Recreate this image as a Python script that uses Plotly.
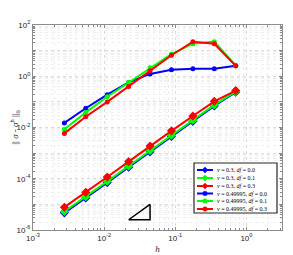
import plotly.graph_objects as go

h = [0.00276, 0.00552, 0.01105, 0.0221, 0.0442, 0.0884, 0.1768, 0.3536, 0.7071]

# nu = 0.3 (lower curves), log10 of error
low_df00 = [-5.33, -4.75, -4.15, -3.55, -2.95, -2.35, -1.76, -1.16, -0.62]
low_df01 = [-5.28, -4.70, -4.10, -3.50, -2.90, -2.30, -1.72, -1.12, -0.60]
low_df03 = [-5.11, -4.53, -3.93, -3.33, -2.72, -2.13, -1.55, -0.98, -0.56]
# nu = 0.49995 (upper curves)
up_df00 = [-1.82, -1.25, -0.72, -0.24, 0.09, 0.25, 0.29, 0.29, 0.41]
up_df01 = [-2.07, -1.41, -0.80, -0.24, 0.33, 0.86, 1.27, 1.35, 0.41]
up_df03 = [-2.23, -1.58, -1.00, -0.40, 0.21, 0.82, 1.35, 1.27, 0.41]

tri_h = [0.0221, 0.0442, 0.0442, 0.0221]
tri_log = [-5.6, -5.6, -5.0, -5.6]

labels = ["<i>ν</i> = 0.3, <i>df</i> = 0.0", "<i>ν</i> = 0.3, <i>df</i> = 0.1",
          "<i>ν</i> = 0.3, <i>df</i> = 0.3", "<i>ν</i> = 0.49995, <i>df</i> = 0.0",
          "<i>ν</i> = 0.49995, <i>df</i> = 0.1", "<i>ν</i> = 0.49995, <i>df</i> = 0.3"]
colors = ["#0000FF", "#00FF00", "#FF0000"]

xtick_vals = [1e-3, 1e-2, 1e-1, 1e0]
xtick_text = ["10<sup>-3</sup>", "10<sup>-2</sup>", "10<sup>-1</sup>", "10<sup>0</sup>"]
ytick_vals = [1e-6, 1e-5, 1e-4, 1e-3, 1e-2, 1e-1, 1e0, 1e1, 1e2]
ytick_text = ["10<sup>-6</sup>", "", "10<sup>-4</sup>", "", "10<sup>-2</sup>", "", "10<sup>0</sup>", "", "10<sup>2</sup>"]

# geometry: page body has an 8px margin, so the figure is offset by 8px
OFF = 8
W, H = 293 - OFF, 255 - OFF
L, R, T, B = 33 - OFF, 11, 25 - OFF, 33 - OFF
pw, ph = W - L - R, H - T - B


def px(x):  # page pixel -> paper fraction
    return (x - OFF - L) / pw


def py(y):
    return (H + OFF - B - y) / ph


fig = go.Figure()
series = [(low_df00, "diamond"), (low_df01, "diamond"), (low_df03, "diamond"),
          (up_df00, "circle"), (up_df01, "circle"), (up_df03, "circle")]
for i, (vals, sym) in enumerate(series):
    fig.add_trace(go.Scatter(
        x=h, y=[10 ** v for v in vals], mode="lines+markers", name=labels[i],
        line=dict(color=colors[i % 3], width=2),
        marker=dict(symbol=sym, size=7 if sym == "diamond" else 5, color=colors[i % 3]),
        showlegend=False,
    ))

fig.add_trace(go.Scatter(x=tri_h, y=[10 ** v for v in tri_log], mode="lines",
                         line=dict(color="black", width=1.5), showlegend=False))

minor_x = [m * 10 ** k for k in range(-3, 1) for m in range(2, 10)]
minor_y = [m * 10 ** k for k in range(-6, 2) for m in range(2, 10)]

axis_common = dict(
    type="log", showline=True, mirror="ticks", linecolor="#8c8c8c", linewidth=1,
    ticks="inside", ticklen=3, tickcolor="#8c8c8c",
    showgrid=True, gridcolor="#dcdcdc", griddash="dot", gridwidth=1,
    tickfont=dict(family="Liberation Sans, Arial", size=8, color="#262626"),
    zeroline=False, automargin=False,
)

fig.update_xaxes(**axis_common, range=[-3, 0.5], tickvals=xtick_vals, ticktext=xtick_text,
                 minor=dict(tickvals=minor_x, showgrid=True, gridcolor="#efefef", griddash="dot",
                            ticks="inside", ticklen=2, tickcolor="#8c8c8c"),
                 title=dict(text="<i>h</i>", font=dict(family="Liberation Serif", size=9, color="#262626"), standoff=4))
fig.update_yaxes(**axis_common, range=[-6, 2], tickvals=ytick_vals, ticktext=ytick_text,
                 minor=dict(tickvals=minor_y, showgrid=True, gridcolor="#f0f0f0", griddash="dot",
                            ticks="inside", ticklen=2, tickcolor="#8c8c8c"),
                 title=dict(text="|| <i>σ</i> - <i>σ</i><sup>h</sup> ||<sub>0</sub>",
                            font=dict(family="Liberation Serif", size=9, color="#262626"), standoff=2))

# compact legend drawn with shapes + annotations
shapes = [dict(type="rect", xref="paper", yref="paper",
               x0=px(194), x1=px(277), y0=py(213), y1=py(163),
               fillcolor="white", line=dict(color="#262626", width=1.2), layer="above")]
annotations = []
row_y = [170, 178, 186, 193.5, 201, 209]
for i, (vals, sym) in enumerate(series):
    yy = row_y[i]
    c = colors[i % 3]
    shapes.append(dict(type="line", xref="paper", yref="paper",
                       x0=px(197), x1=px(213), y0=py(yy), y1=py(yy),
                       line=dict(color=c, width=2), layer="above"))
    if sym == "circle":
        r = 2.3
        shapes.append(dict(type="circle", xref="paper", yref="paper",
                           x0=px(205 - r), x1=px(205 + r), y0=py(yy + r), y1=py(yy - r),
                           fillcolor=c, line=dict(color=c, width=0.5), layer="above"))
    else:
        d = 3
        path = "M {} {} L {} {} L {} {} L {} {} Z".format(
            px(205 - d), py(yy), px(205), py(yy - d), px(205 + d), py(yy), px(205), py(yy + d))
        shapes.append(dict(type="path", xref="paper", yref="paper", path=path,
                           fillcolor=c, line=dict(color=c, width=0.5), layer="above"))
    annotations.append(dict(xref="paper", yref="paper", x=px(215), y=py(yy),
                            xanchor="left", yanchor="middle", showarrow=False,
                            text=labels[i],
                            font=dict(family="Liberation Serif", size=6, color="black")))

fig.update_layout(
    width=W, height=H,
    margin=dict(l=L, r=R, t=T, b=B),
    paper_bgcolor="white", plot_bgcolor="white",
    shapes=shapes, annotations=annotations,
    showlegend=False,
)

fig.write_html("out.html")
